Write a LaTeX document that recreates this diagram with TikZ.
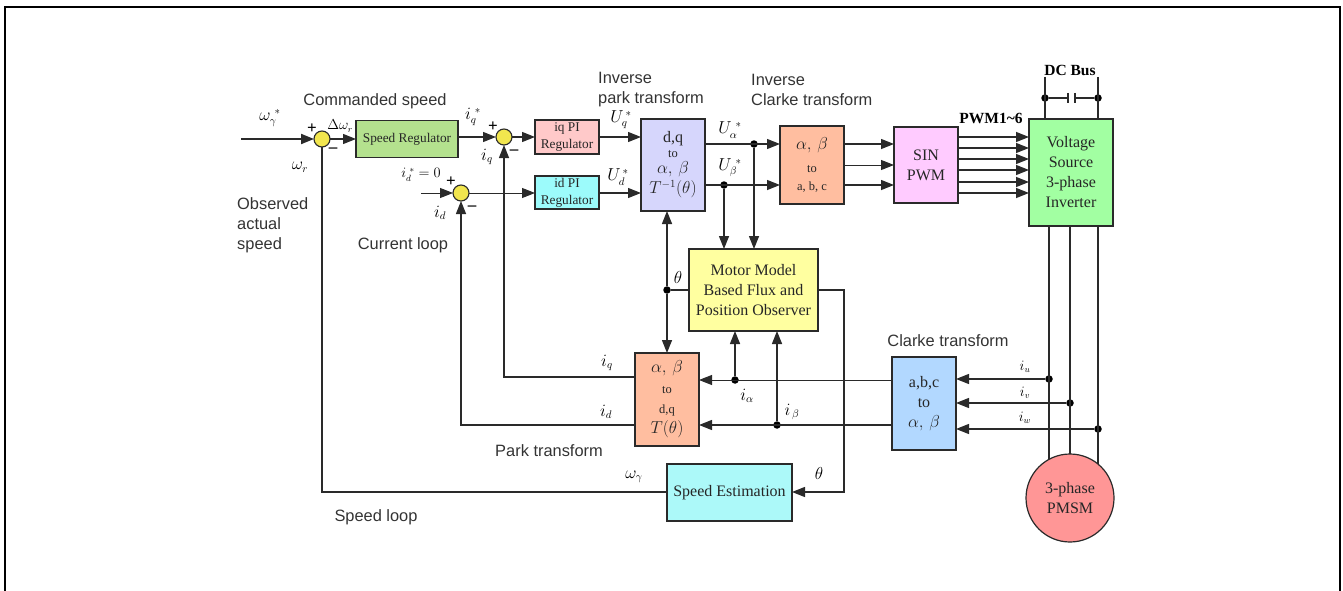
\documentclass[tikz,border=0pt]{standalone}
\usepackage{amsmath,amssymb}
\usepackage{fontspec}
\setmainfont{Liberation Serif}
\setsansfont{Liberation Sans}
\usepackage{tikz}
\usetikzlibrary{arrows.meta,positioning,calc}
\definecolor{linegray}{HTML}{2A2A2A}
\definecolor{sumyellow}{HTML}{F2E64E}
\definecolor{regreen}{HTML}{B4E18E}
\definecolor{iqpink}{HTML}{FFC9C9}
\definecolor{idcyan}{HTML}{9CFBFB}
\definecolor{lavender}{HTML}{D6D6FC}
\definecolor{salmon}{HTML}{FFBEA0}
\definecolor{sinpink}{HTML}{FFCBFF}
\definecolor{invgreen}{HTML}{A2FFA2}
\definecolor{obsyellow}{HTML}{FFFFA0}
\definecolor{clarkeblue}{HTML}{B2D8FF}
\definecolor{estcyan}{HTML}{ACF9F9}
\definecolor{motorred}{HTML}{FF9696}
\newcommand{\smalltxt}[1]{{\fontsize{12.5}{15}\selectfont #1}}
\tikzset{
  blockbox/.style={draw=linegray,line width=1.2pt,outer sep=0pt,align=center,inner sep=0pt,text=black!85,font=\fontsize{16}{20}\selectfont},
  smallbox/.style={blockbox,font=\fontsize{13.3}{17}\selectfont},
  sumnode/.style={circle,draw=linegray,line width=1.1pt,outer sep=0pt,fill=sumyellow,minimum size=16pt,inner sep=0pt},
  dotnode/.style={circle,fill=black,minimum size=7.5pt,inner sep=0pt},
  sig/.style={-{Triangle[length=13pt,width=10pt]},line width=1.4pt,linegray},
  wire/.style={line width=1.4pt,linegray},
  caption/.style={font=\sffamily\fontsize{16.4}{20}\selectfont,text=black!80,inner sep=0pt,align=left},
  symb/.style={font=\fontsize{16}{19}\selectfont,inner sep=0pt},
  tiny/.style={font=\fontsize{13.5}{16}\selectfont,inner sep=0pt},
  signmark/.style={font=\bfseries\fontsize{17}{17}\selectfont,inner sep=0pt},
}
\begin{document}
\begin{tikzpicture}[x=1pt,y=-1pt]
\useasboundingbox (0,0) rectangle (1343,591);
\draw[line width=2pt,black] (5,591)--(5,7)--(1340,7)--(1340,591);
\node[sumnode] at (322,139) (sumspeed) {};
\node[smallbox,fill=regreen,minimum width=102pt,minimum height=37pt,right=26pt of sumspeed] (speedreg) {Speed Regulator};
\node[sumnode] at (504,137) (sumiq) {};
\node[smallbox,fill=iqpink,minimum width=64pt,minimum height=34pt,right=23pt of sumiq] (iqpi) {iq PI\\Regulator};
\node[sumnode] at (461,193) (sumid) {};
\node[smallbox,fill=idcyan,minimum width=64pt,minimum height=33pt,below=22pt of iqpi] (idpi) {id PI\\Regulator};
\node[blockbox,fill=lavender,minimum width=64pt,minimum height=92pt] at (673,165) (invpark) {d,q\\[-5pt]\smalltxt{to}\\[-4pt]$\alpha,\,\beta$\\$T^{-1}(\theta)$};
\node[blockbox,fill=salmon,minimum width=64pt,minimum height=78pt,right=75pt of invpark] (invclarke) {$\alpha,\,\beta$\\[3pt]\smalltxt{to}\\[-2pt]\smalltxt{a, b, c}};
\node[blockbox,fill=sinpink,minimum width=64pt,minimum height=76pt,right=50pt of invclarke] (sinpwm) {SIN\\PWM};
\node[blockbox,fill=invgreen,minimum width=84pt,minimum height=107pt] at (1071,172.5) (inverter) {Voltage\\Source\\3-phase\\Inverter};
\node[blockbox,fill=obsyellow,minimum width=129pt,minimum height=82pt] at (753.5,290) (observer) {Motor Model\\Based Flux and\\Position Observer};
\node[blockbox,fill=salmon,minimum width=64pt,minimum height=93pt] at (667,399.5) (park) {$\alpha,\,\beta$\\[1pt]\smalltxt{to}\\\smalltxt{d,q}\\$T(\theta)$};
\node[blockbox,fill=clarkeblue,minimum width=64pt,minimum height=93pt] at (924,403.5) (clarke) {a,b,c\\to\\$\alpha,\,\beta$};
\node[blockbox,fill=estcyan,minimum width=125pt,minimum height=57pt] at (729.5,492.5) (speedest) {Speed Estimation};
\node[blockbox,circle,fill=motorred,minimum size=88pt] at (1070,498) (pmsm) {3-phase\\PMSM};
\coordinate (speedin) at (241,139);
\coordinate (idin) at (421,193);
\coordinate (busleft) at (1045,77);
\coordinate (busright) at (1098,77);
\node[dotnode] at (724,185) (dotubeta) {};
\node[dotnode] at (754,144) (dotualpha) {};
\node[dotnode] at (667,290) (dottheta) {};
\node[dotnode] at (735,380) (dotialpha) {};
\node[dotnode] at (777,425) (dotibeta) {};
\node[dotnode] at (1049,379) (dotiu) {};
\node[dotnode] at (1070,403) (dotiv) {};
\node[dotnode] at (1098,429) (dotiw) {};
\node[dotnode] at (1045,98) (dotbusl) {};
\node[dotnode] at (1098,98) (dotbusr) {};
\coordinate (capl) at (1068,98);
\coordinate (capr) at (1075,98);
\draw[sig,line width=2pt] (speedin)--(sumspeed);
\draw[sig] (sumspeed)--(speedreg.west |- sumspeed);
\draw[sig] (speedreg.east |- sumiq)--(sumiq);
\draw[sig] (sumiq)--(iqpi.west |- sumiq);
\draw[sig] (iqpi.east |- sumiq)--(invpark.west |- sumiq);
\draw[sig,line width=1pt] (idin)--(sumid);
\draw[sig,line width=1pt] (sumid)--(idpi.west |- sumid);
\draw[sig] (idpi.east |- sumid)--(invpark.west |- sumid);
\draw[sig] (invpark.east |- dotualpha)--(invclarke.west |- dotualpha);
\draw[sig] (invpark.east |- dotubeta)--(invclarke.west |- dotubeta);
\draw[sig] (dotubeta)--(dotubeta |- observer.north);
\draw[sig] (dotualpha)--(dotualpha |- observer.north);
\draw[sig] (invclarke.east |- dotualpha)--(sinpwm.west |- dotualpha);
\draw[sig,line width=1pt] (invclarke.east)--(sinpwm.west);
\draw[sig] (invclarke.east |- dotubeta)--(sinpwm.west |- dotubeta);
\foreach \ypwm in {137,148,159,170,182,193}{
  \draw[sig] (sinpwm.east |- 0,\ypwm)--(inverter.west |- 0,\ypwm);
}
\draw[wire] (busleft)--(busleft |- inverter.north);
\draw[wire] (busright)--(busright |- inverter.north);
\draw[wire] (dotbusl)--(capl);
\draw[wire] (capr)--(dotbusr);
\draw[wire] ($(capl)+(0,-5)$)--($(capl)+(0,5)$);
\draw[wire] ($(capr)+(0,-5)$)--($(capr)+(0,5)$);
\draw[wire] (dotiu |- inverter.south)--(dotiu |- 0,459);
\draw[wire] (dotiv |- inverter.south)--(dotiv |- pmsm.north);
\draw[wire] (dotiw |- inverter.south)--(dotiw |- 0,464);
\draw[sig] (dotiu)--(clarke.east |- dotiu);
\draw[sig] (dotiv)--(clarke.east |- dotiv);
\draw[sig] (dotiw)--(clarke.east |- dotiw);
\draw[sig,line width=1pt] (clarke.west |- dotialpha)--(park.east |- dotialpha);
\draw[sig] (clarke.west |- dotibeta)--(park.east |- dotibeta);
\draw[sig] (dotialpha)--(dotialpha |- observer.south);
\draw[sig] (dotibeta)--(dotibeta |- observer.south);
\draw[sig] (dottheta)--(dottheta |- invpark.south);
\draw[sig] (dottheta)--(dottheta |- park.north);
\draw[wire] (dottheta)--(observer.west |- dottheta);
\draw[sig] (observer.east |- dottheta)-|(844,492)--(speedest.east |- 0,492);
\draw[sig] (park.west |- 0,377)-|(sumiq);
\draw[sig] (park.west |- dotibeta)-|(sumid);
\draw[wire] (speedest.west |- 0,492)-|(sumspeed);
\node[symb] at (270,118) (omegaref) {$\omega_{\gamma}^{\ *}$};
\node[signmark] at (312,129) (plusspeed) {+};
\node[signmark] at (333,150) (minusspeed) {--};
\node[tiny] at (340,126) (deltaomega) {$\Delta\omega_{r}$};
\node[symb] at (300,167) (omegafb) {$\omega_{r}$};
\node[caption] at (375,101) (cmdlabel) {Commanded speed};
\node[caption,anchor=west] at (237,225) (obslabel) {Observed\\actual\\speed};
\node[caption] at (403,245) (curlabel) {Current loop};
\node[caption,anchor=west] at (598,89.5) (invparklabel) {Inverse\\park transform};
\node[caption,anchor=west] at (751,89.5) (invclarkelabel) {Inverse\\Clarke transform};
\node[caption] at (549,451) (parklabel) {Park transform};
\node[caption] at (948,341) (clarkelabel) {Clarke transform};
\node[caption] at (376,517) (looplabel) {Speed loop};
\node[symb] at (473,117) (iqref) {$i_{q}^{\ *}$};
\node[signmark] at (493,127) (plusiq) {+};
\node[signmark] at (514,152) (minusiq) {--};
\node[symb] at (487,157) (iqfb) {$i_{q}$};
\node[tiny] at (421,175) (idref) {$i_{d}^{\ *}=0$};
\node[signmark] at (451,182) (plusid) {+};
\node[signmark] at (472,208) (minusid) {--};
\node[symb] at (440,213) (idfb) {$i_{d}$};
\node[symb] at (621,120) (uqref) {$U_{q}^{\,*}$};
\node[symb] at (618,177) (udref) {$U_{d}^{\,*}$};
\node[symb] at (730,130) (ualpha) {$U_{\alpha}^{\ *}$};
\node[symb] at (730,168) (ubeta) {$U_{\beta}^{\ *}$};
\node[symb] at (678,277) (thetaobs) {$\theta$};
\node[symb] at (607,363) (iqpark) {$i_{q}$};
\node[symb] at (606,412) (idpark) {$i_{d}$};
\node[symb] at (747,396) (ialpha) {$i_{\alpha}$};
\node[symb] at (792,412) (ibeta) {$i_{\,\beta}$};
\node[symb] at (634,477) (omegaest) {$\omega_{\gamma}$};
\node[symb] at (819,473) (thetaest) {$\theta$};
\node[tiny] at (1025,367) (iu) {$i_{u}$};
\node[tiny] at (1025,393) (iv) {$i_{v}$};
\node[tiny] at (1025,418) (iw) {$i_{w}$};
\node[font=\bfseries\fontsize{15.5}{18}\selectfont,inner sep=0pt] at (991,118) (pwmlabel) {PWM1\textasciitilde 6};
\node[font=\bfseries\fontsize{15.5}{18}\selectfont,inner sep=0pt] at (1070,70) (buslabel) {DC Bus};
\end{tikzpicture}
\end{document}
